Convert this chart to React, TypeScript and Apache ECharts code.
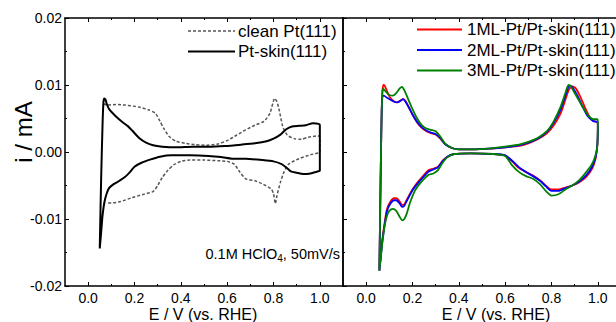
import React, { useEffect, useRef } from "react";
import * as echarts from "echarts";

const FONT = "Liberation Sans, Arial, sans-serif";

const xMajorTicks = [0, 0.2, 0.4, 0.6, 0.8, 1.0];
const xMinorTicks = [0.1, 0.3, 0.5, 0.7, 0.9];

const legendLeft = ["clean Pt(111)", "Pt-skin(111)"];
const legendRight = ["1ML-Pt/Pt-skin(111)", "2ML-Pt/Pt-skin(111)", "3ML-Pt/Pt-skin(111)"];

// [E (V), i (mA)]
const cleanPt = [
  [0.065, 0.0072], [0.083, 0.007], [0.12, 0.0071], [0.16, 0.007], [0.22, 0.0067], [0.26, 0.0063],
  [0.29, 0.0058], [0.31, 0.0046], [0.325, 0.0036], [0.35, 0.0023], [0.38, 0.0016], [0.42, 0.0013],
  [0.46, 0.0011], [0.51, 0.001], [0.56, 0.0012], [0.6, 0.0017], [0.64, 0.0025], [0.68, 0.0033],
  [0.72, 0.004], [0.76, 0.0046], [0.785, 0.0058], [0.805, 0.008], [0.815, 0.0075], [0.825, 0.0062],
  [0.84, 0.0038], [0.86, 0.0025], [0.89, 0.002], [0.92, 0.0019], [0.95, 0.0022], [0.99, 0.0024],
  [1.0, 0.0024], [1.0, 0.0], [0.96, -0.0004], [0.91, -0.001], [0.866, -0.0018], [0.845, -0.003],
  [0.83, -0.0045], [0.815, -0.0065], [0.808, -0.0077], [0.8, -0.0062], [0.79, -0.0055], [0.755, -0.0048],
  [0.72, -0.0043], [0.68, -0.004], [0.655, -0.003], [0.63, -0.0018], [0.6, -0.0014], [0.56, -0.0013],
  [0.5, -0.0012], [0.44, -0.0012], [0.4, -0.0014], [0.37, -0.0019], [0.345, -0.0027], [0.32, -0.0038],
  [0.3, -0.005], [0.28, -0.0059], [0.24, -0.0063], [0.19, -0.0068], [0.14, -0.0074], [0.1, -0.0076],
  [0.076, -0.0076],
];

const ptSkin = [
  [0.05, -0.0144], [0.056, -0.004], [0.062, 0.004], [0.066, 0.0075], [0.07, 0.008], [0.075, 0.0078],
  [0.08, 0.0072], [0.09, 0.0064], [0.1, 0.006], [0.12, 0.0053], [0.15, 0.0044], [0.17, 0.0039],
  [0.19, 0.0032], [0.22, 0.0021], [0.25, 0.0014], [0.28, 0.001], [0.32, 0.0008], [0.38, 0.0007],
  [0.45, 0.0008], [0.52, 0.0008], [0.59, 0.0009], [0.66, 0.0011], [0.72, 0.0013], [0.77, 0.0016],
  [0.8, 0.002], [0.83, 0.0026], [0.855, 0.0034], [0.88, 0.0038], [0.91, 0.0039], [0.94, 0.004],
  [0.97, 0.0043], [0.995, 0.0042], [1.0, 0.004], [1.0, -0.0028], [0.99, -0.0029], [0.96, -0.0032],
  [0.93, -0.0033], [0.9, -0.0031], [0.875, -0.0029], [0.855, -0.0023], [0.835, -0.0018], [0.8, -0.0014],
  [0.75, -0.0012], [0.68, -0.001], [0.62, -0.001], [0.58, -0.0008], [0.52, -0.0006], [0.44, -0.0005],
  [0.36, -0.0005], [0.31, -0.0007], [0.27, -0.0011], [0.23, -0.0016], [0.2, -0.0022], [0.18, -0.003],
  [0.16, -0.0037], [0.13, -0.0044], [0.11, -0.0048], [0.09, -0.0054], [0.08, -0.0062], [0.07, -0.0075],
  [0.062, -0.0095], [0.056, -0.012], [0.05, -0.0144],
];

const ml1 = [
  [0.057, -0.0177], [0.06, -0.01], [0.064, 0.0], [0.067, 0.006], [0.07, 0.009], [0.074, 0.01],
  [0.08, 0.0099], [0.09, 0.0091], [0.1, 0.0083], [0.115, 0.0077], [0.13, 0.0074], [0.145, 0.0076],
  [0.16, 0.0079], [0.17, 0.0076], [0.185, 0.0066], [0.2, 0.0056], [0.22, 0.0044], [0.24, 0.0036],
  [0.26, 0.0031], [0.28, 0.0028], [0.3, 0.0026], [0.32, 0.002], [0.34, 0.0012], [0.37, 0.0006],
  [0.4, 0.0004], [0.46, 0.0004], [0.53, 0.0005], [0.6, 0.0007], [0.66, 0.0009], [0.7, 0.0013],
  [0.74, 0.0019], [0.78, 0.0028], [0.81, 0.004], [0.84, 0.0058], [0.86, 0.0078], [0.875, 0.0093],
  [0.89, 0.0098], [0.905, 0.0095], [0.925, 0.0082], [0.945, 0.0066], [0.965, 0.0052], [0.985, 0.0046],
  [0.998, 0.0044], [1.0, 0.004], [0.998, 0.001], [0.99, -0.001], [0.975, -0.0025], [0.95, -0.0037],
  [0.92, -0.0045], [0.89, -0.005], [0.86, -0.0053], [0.83, -0.0056], [0.8, -0.0056], [0.775, -0.005],
  [0.75, -0.0042], [0.72, -0.0035], [0.69, -0.003], [0.66, -0.0024], [0.63, -0.0014], [0.6, -0.0005],
  [0.55, -0.0003], [0.45, -0.0002], [0.38, -0.0003], [0.35, -0.0007], [0.33, -0.0013], [0.31, -0.0022],
  [0.29, -0.0025], [0.27, -0.0027], [0.25, -0.0034], [0.22, -0.0046], [0.2, -0.0056], [0.18, -0.0068],
  [0.165, -0.0078], [0.155, -0.0079], [0.145, -0.0074], [0.13, -0.0069], [0.12, -0.0069], [0.105, -0.0074],
  [0.09, -0.0085], [0.08, -0.0105], [0.07, -0.013], [0.063, -0.0155], [0.057, -0.0177],
];

const ml2 = [
  [0.057, -0.0177], [0.06, -0.01], [0.064, 0.0], [0.067, 0.006], [0.07, 0.0082], [0.076, 0.0084],
  [0.09, 0.0081], [0.105, 0.0078], [0.12, 0.0075], [0.135, 0.0074], [0.15, 0.0077], [0.16, 0.0079],
  [0.17, 0.0075], [0.185, 0.0066], [0.2, 0.0056], [0.22, 0.0045], [0.24, 0.0037], [0.26, 0.0032],
  [0.28, 0.0029], [0.3, 0.0027], [0.32, 0.0021], [0.34, 0.0012], [0.37, 0.0006], [0.4, 0.0004],
  [0.46, 0.0004], [0.53, 0.0005], [0.6, 0.0007], [0.66, 0.001], [0.7, 0.0014], [0.74, 0.002],
  [0.78, 0.003], [0.81, 0.0044], [0.84, 0.0064], [0.86, 0.0084], [0.872, 0.0096], [0.882, 0.0099],
  [0.895, 0.0094], [0.915, 0.0082], [0.935, 0.0067], [0.955, 0.0054], [0.98, 0.0046], [0.998, 0.0045],
  [1.0, 0.0041], [0.998, 0.0012], [0.99, -0.0008], [0.975, -0.0022], [0.95, -0.0035], [0.92, -0.0044],
  [0.89, -0.005], [0.86, -0.0054], [0.83, -0.0058], [0.8, -0.0058], [0.775, -0.0051], [0.75, -0.0043],
  [0.72, -0.0036], [0.69, -0.003], [0.66, -0.0023], [0.63, -0.0013], [0.6, -0.0005], [0.55, -0.0003],
  [0.45, -0.0002], [0.38, -0.0003], [0.35, -0.0007], [0.33, -0.0014], [0.31, -0.0023], [0.29, -0.0026],
  [0.27, -0.0029], [0.25, -0.0036], [0.22, -0.0048], [0.2, -0.0057], [0.18, -0.007], [0.165, -0.008],
  [0.155, -0.0082], [0.145, -0.0077], [0.13, -0.0072], [0.12, -0.0072], [0.105, -0.0077], [0.09, -0.0088],
  [0.08, -0.0108], [0.07, -0.0133], [0.063, -0.0157], [0.057, -0.0177],
];

const ml3 = [
  [0.057, -0.0177], [0.06, -0.01], [0.064, 0.0], [0.067, 0.006], [0.07, 0.009], [0.074, 0.0094],
  [0.085, 0.009], [0.1, 0.0085], [0.115, 0.0084], [0.13, 0.0088], [0.145, 0.0095], [0.155, 0.0097],
  [0.165, 0.0092], [0.18, 0.008], [0.2, 0.0064], [0.22, 0.005], [0.24, 0.004], [0.26, 0.0035],
  [0.28, 0.0033], [0.3, 0.0031], [0.32, 0.0023], [0.34, 0.0013], [0.37, 0.0006], [0.4, 0.0004],
  [0.46, 0.0004], [0.53, 0.0005], [0.6, 0.0008], [0.66, 0.0011], [0.7, 0.0015], [0.74, 0.0021],
  [0.78, 0.0031], [0.81, 0.0046], [0.84, 0.0068], [0.86, 0.0088], [0.873, 0.01], [0.885, 0.0097],
  [0.9, 0.0088], [0.92, 0.0076], [0.94, 0.0064], [0.96, 0.0054], [0.98, 0.0049], [0.998, 0.0049],
  [1.0, 0.0045], [0.998, 0.001], [0.99, -0.0005], [0.975, -0.0018], [0.95, -0.003], [0.92, -0.0042],
  [0.89, -0.005], [0.86, -0.0056], [0.83, -0.0063], [0.8, -0.0065], [0.78, -0.006], [0.75, -0.0048],
  [0.72, -0.004], [0.69, -0.0036], [0.66, -0.003], [0.63, -0.002], [0.6, -0.0006], [0.55, -0.0003],
  [0.45, -0.0002], [0.38, -0.0003], [0.35, -0.0008], [0.33, -0.0016], [0.31, -0.0027], [0.29, -0.0032],
  [0.27, -0.0034], [0.25, -0.004], [0.23, -0.0048], [0.21, -0.0058], [0.19, -0.0075], [0.175, -0.0092],
  [0.165, -0.01], [0.155, -0.0102], [0.145, -0.0097], [0.13, -0.0088], [0.115, -0.0085], [0.1, -0.0088],
  [0.09, -0.0095], [0.08, -0.011], [0.07, -0.0135], [0.063, -0.0158], [0.057, -0.0177],
];

const axisLineStyle = { color: "#000", width: 1.5 };
const tickStyle = { color: "#000", width: 1 };

function makeXAxes(gridIndex: number, showLabels: boolean) {
  const base = { type: "value", gridIndex, min: -0.1, max: 1.1, splitLine: { show: false } };
  return [
    {
      ...base,
      position: "bottom",
      axisLine: { show: true, onZero: false, lineStyle: axisLineStyle },
      axisTick: { show: true, inside: true, length: 4, customValues: xMajorTicks, lineStyle: tickStyle },
      axisLabel: {
        show: showLabels,
        customValues: xMajorTicks,
        formatter: (v: number) => v.toFixed(1),
        fontSize: 14,
        color: "#000",
        fontFamily: FONT,
        margin: 5,
      },
    },
    {
      ...base,
      position: "bottom",
      axisLine: { show: false, onZero: false },
      axisTick: { show: true, inside: true, length: 2, customValues: xMinorTicks, lineStyle: tickStyle },
      axisLabel: { show: false },
    },
    {
      ...base,
      position: "top",
      axisLine: { show: true, onZero: false, lineStyle: axisLineStyle },
      axisTick: { show: true, inside: true, length: 4, customValues: xMajorTicks, lineStyle: tickStyle },
      axisLabel: { show: false },
    },
    {
      ...base,
      position: "top",
      axisLine: { show: false, onZero: false },
      axisTick: { show: true, inside: true, length: 2, customValues: xMinorTicks, lineStyle: tickStyle },
      axisLabel: { show: false },
    },
  ];
}

function makeYAxis(gridIndex: number, position: string, showLabels: boolean, showTicks: boolean) {
  return {
    type: "value",
    gridIndex,
    position,
    min: -0.02,
    max: 0.02,
    interval: 0.01,
    splitLine: { show: false },
    axisLine: { show: true, onZero: false, lineStyle: axisLineStyle },
    axisTick: { show: showTicks, inside: true, length: 4, lineStyle: tickStyle },
    minorTick: { show: showTicks, splitNumber: 2, length: 2, lineStyle: tickStyle },
    axisLabel: {
      show: showLabels,
      formatter: (v: number) => (Math.abs(v) < 1e-9 ? "0.00" : v.toFixed(2)),
      fontSize: 14,
      color: "#000",
      fontFamily: FONT,
      margin: 3,
    },
  };
}

function lineSeries(name: string, data: number[][], gridSide: number, color: string, width: number, type: any) {
  return {
    name,
    type: "line",
    xAxisIndex: gridSide === 0 ? 0 : 4,
    yAxisIndex: gridSide === 0 ? 0 : 2,
    data,
    showSymbol: false,
    symbol: "none",
    smooth: 0.2,
    lineStyle: { color, width, type },
    clip: true,
  };
}

function legendItems(labels: string[], colors: string[], types: any[], widths: number[], x1: number, x2: number, tx: number, ys: number[]) {
  const out: any[] = [];
  labels.forEach((lab, k) => {
    out.push({
      type: "line",
      shape: { x1, y1: ys[k], x2, y2: ys[k] },
      style: { stroke: colors[k], lineWidth: widths[k], lineDash: types[k] === "solid" ? null : types[k] },
    });
    out.push({
      type: "text",
      x: tx,
      y: ys[k],
      style: { text: lab, fill: "#000", fontSize: 17, fontFamily: FONT, verticalAlign: "middle", align: "left" },
    });
  });
  return out;
}

export default function App() {
  const ref = useRef<HTMLDivElement>(null);
  useEffect(() => {
    if (!ref.current) return;
    const chart = echarts.init(ref.current, null, { renderer: "svg" });
    const option: any = {
      animation: false,
      backgroundColor: "#fff",
      grid: [
        { left: 65, top: 18, width: 278, height: 268 },
        { left: 343, top: 18, width: 278, height: 268 },
      ],
      xAxis: [...makeXAxes(0, true), ...makeXAxes(1, true)],
      yAxis: [
        makeYAxis(0, "left", true, true),
        makeYAxis(0, "right", false, false),
        makeYAxis(1, "left", false, true),
        makeYAxis(1, "right", false, true),
      ],
      series: [
        lineSeries(legendLeft[0], cleanPt, 0, "#555", 1.5, [3, 2]),
        lineSeries(legendLeft[1], ptSkin, 0, "#000", 2, "solid"),
        lineSeries(legendRight[0], ml1, 1, "#ff0000", 1.8, "solid"),
        lineSeries(legendRight[1], ml2, 1, "#0000ff", 1.8, "solid"),
        lineSeries(legendRight[2], ml3, 1, "#008000", 1.8, "solid"),
      ],
      graphic: [
        ...legendItems(legendLeft, ["#555", "#000"], [[3, 2], "solid"], [1.5, 2], 188, 235, 238, [31, 51.5]),
        ...legendItems(legendRight, ["#ff0000", "#0000ff", "#008000"], ["solid", "solid", "solid"], [1.8, 1.8, 1.8], 417, 462, 467, [29.5, 50, 70.5]),
        {
          type: "text",
          x: 340,
          y: 254,
          style: {
            text: "{a|0.1M HClO}{b|4}{a|, 50mV/s}",
            align: "right",
            verticalAlign: "middle",
            rich: {
              a: { fontSize: 14.5, fontFamily: FONT, fill: "#000" },
              b: { fontSize: 10, fontFamily: FONT, fill: "#000", padding: [8, 0, 0, 0] },
            },
          },
        },
        {
          type: "text",
          x: 23,
          y: 132,
          rotation: Math.PI / 2,
          style: { text: "i / mA", fontSize: 24, fontFamily: FONT, fill: "#000", align: "center", verticalAlign: "middle" },
        },
        {
          type: "text",
          x: 203,
          y: 322,
          style: { text: "E / V (vs. RHE)", fontSize: 16, fontFamily: FONT, fill: "#000", align: "center", verticalAlign: "bottom" },
        },
        {
          type: "text",
          x: 496,
          y: 322,
          style: { text: "E / V (vs. RHE)", fontSize: 16, fontFamily: FONT, fill: "#000", align: "center", verticalAlign: "bottom" },
        },
      ],
    };
    chart.setOption(option);
    return () => chart.dispose();
  }, []);
  return (
    <div style={{ position: "absolute", left: 0, top: 0, width: 616, height: 322, overflow: "hidden", background: "#fff" }}>
      <div ref={ref} style={{ width: 630, height: 322 }} />
    </div>
  );
}
